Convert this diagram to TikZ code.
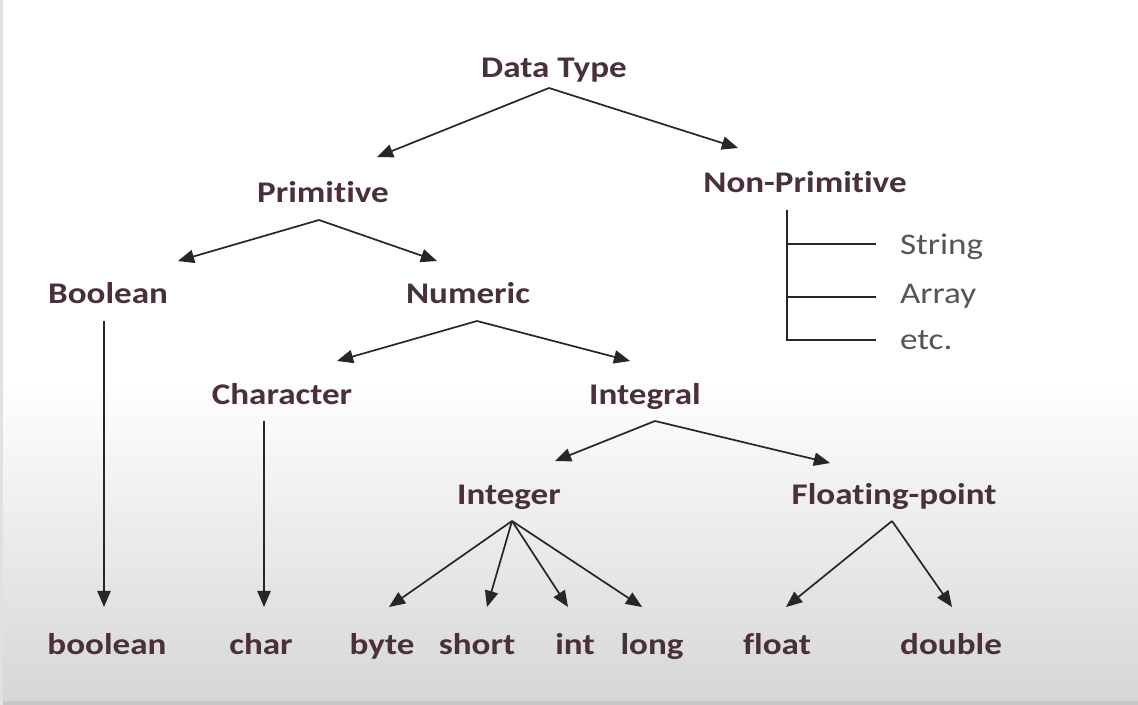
\documentclass[tikz,border=0pt]{standalone}
\usepackage{fontspec}
\setmainfont{Carlito}[FakeStretch=1.17,Ligatures={NoCommon}]
\usetikzlibrary{arrows}
\definecolor{typered}{HTML}{4A3038}
\definecolor{subgray}{HTML}{555555}

\begin{document}
\begin{tikzpicture}[x=0.5pt,y=-0.5pt,
	every node/.style={font=\bfseries\fontsize{15}{18}\selectfont,text=typered,inner sep=0pt,outer sep=5.5pt,text height=10pt,text depth=3pt,anchor=base},
	sub/.style={font=\fontsize{15}{18}\selectfont,text=subgray,outer sep=0pt,anchor=base west},
	link/.style={draw=black!85,line width=0.85pt,-triangle 45}
	]
	% background
	\fill[white] (0,0) rectangle (1138,705);
	\shade[top color=white,bottom color=black!16] (0,380) rectangle (1138,701);
	\fill[black!22] (0,701) rectangle (1138,705);
	\fill[blue!20!black!12] (0,0) rectangle (3,705);

	% levels
	\node (dtype) at (554,78) {Data Type};
	\node (prim) at (323,203) {Primitive};
	\node (nonprim) at (805,193) {Non-Primitive};
	\node (bool) at (108,304) {Boolean};
	\node (num) at (468,304) {Numeric};
	\node (chr) at (282,404) {Character};
	\node (integral) at (645,404) {Integral};
	\node (integer) at (509,504) {Integer};
	\node (floatpt) at (894,504) {Floating-point};
	% leaves
	\node (lbool) at (107,654) {boolean};
	\node (lchar) at (261,654) {char};
	\node (lbyte) at (382,654) {byte};
	\node (lshort) at (477,654) {short};
	\node (lint) at (575,654) {int};
	\node (llong) at (652,654) {long};
	\node (lfloat) at (777,654) {float};
	\node (ldouble) at (951,654) {double};
	\node[sub] (str) at (900,255) {String};
	\node[sub] (arr) at (900,304) {Array};
	\node[sub] (etc) at (900,349) {etc.};

	% arrow tips
	\coordinate (tprim) at (377,157);
	\coordinate (tnonprim) at (738,148);
	\coordinate (tbool) at (178,261);
	\coordinate (tnum) at (437,261);
	\coordinate (tchr) at (337,361);
	\coordinate (tintegral) at (630,361);
	\coordinate (tinteger) at (555,461);
	\coordinate (tfloatpt) at (830,463);
	\coordinate (tlbool) at (104,607);
	\coordinate (tlchar) at (264,607);
	\coordinate (tlbyte) at (389,607);
	\coordinate (tlshort) at (487,607);
	\coordinate (tlint) at (568,607);
	\coordinate (tllong) at (642,607);
	\coordinate (tlfloat) at (786,607);
	\coordinate (tldouble) at (952,607);

	\draw[link] ([xshift=-2.5pt,yshift=3.5pt]dtype.south) -- (tprim);
	\draw[link] ([xshift=-2.5pt,yshift=3.5pt]dtype.south) -- (tnonprim);
	\draw[link] ([xshift=-2pt]prim.south) -- (tbool);
	\draw[link] ([xshift=-2pt]prim.south) -- (tnum);
	\draw[link] ([xshift=4.5pt]num.south) -- (tchr);
	\draw[link] ([xshift=4.5pt]num.south) -- (tintegral);
	\draw[link] ([xshift=5pt]integral.south) -- (tinteger);
	\draw[link] ([xshift=5pt]integral.south) -- (tfloatpt);
	\draw[link] ([xshift=-2pt]bool.south) -- (tlbool);
	\draw[link] ([xshift=-9pt]chr.south) -- (tlchar);
	\foreach \t in {tlbyte,tlshort,tlint,tllong}
		\draw[link] ([xshift=1.5pt]integer.south) -- (\t);
	\draw[link] ([xshift=-1pt]floatpt.south) -- (tlfloat);
	\draw[link] ([xshift=-1pt]floatpt.south) -- (tldouble);

	% non-primitive bracket
	\draw[line width=0.85pt,black!85] ([xshift=-9pt]nonprim.south) |- ([xshift=-12pt,yshift=1pt]etc.west);
	\draw[line width=0.85pt,black!85] ([xshift=-9pt,yshift=2pt]nonprim.south |- str.west) -- ([xshift=-12pt,yshift=2pt]str.west);
	\draw[line width=0.85pt,black!85] ([xshift=-9pt]nonprim.south |- arr.west) -- ([xshift=-12pt]arr.west);
\end{tikzpicture}
\end{document}
